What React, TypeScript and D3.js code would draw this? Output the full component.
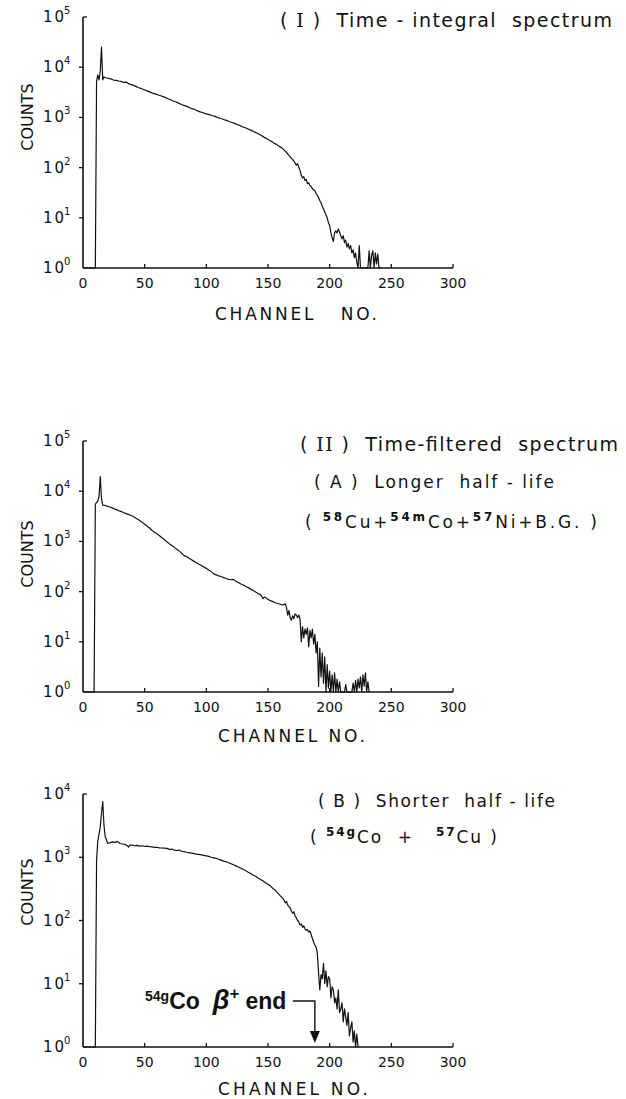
import React from "react";
import * as d3 from "d3";

// ---------- data ----------
const xTickValues = [0, 50, 100, 150, 200, 250, 300];
const yExponentsUpper = [0, 1, 2, 3, 4, 5];
const yExponentsLower = [0, 1, 2, 3, 4];

// (I) Time-integral spectrum
const channelsI = [0, 10, 11, 12, 13, 14, 15, 16, 17, 19, 21, 23, 25, 27, 29, 31, 33, 35, 37, 39, 41, 43, 45, 47, 49, 51, 53, 55, 57, 59, 61, 63, 65, 67, 69, 71, 73, 75, 77, 79, 81, 83, 85, 87, 89, 91, 93, 95, 97, 99, 101, 103, 105, 107, 109, 111, 113, 115, 117, 119, 121, 123, 125, 127, 129, 131, 133, 135, 137, 139, 141, 143, 145, 147, 149, 151, 153, 155, 157, 159, 161, 163, 165, 167, 169, 171, 173, 174, 175, 176, 177, 178, 179, 180, 181, 182, 183, 184, 185, 186, 187, 188, 189, 190, 191, 192, 193, 194, 195, 196, 197, 198, 199, 200, 201, 202, 203, 204, 205, 206, 207, 208, 209, 210, 211, 212, 213, 214, 215, 216, 217, 218, 219, 220, 221, 222, 223, 224, 225, 231, 232, 233, 234, 235, 236, 237, 238, 239, 240, 242];
const countsI = [1, 1, 5200, 7000, 5600, 8500, 25000, 5600, 6400, 6100, 6000, 5800, 5500, 5450, 5300, 5200, 5000, 5050, 4700, 4500, 4350, 4150, 3900, 3800, 3600, 3450, 3300, 3150, 3000, 2900, 2800, 2700, 2600, 2480, 2350, 2250, 2120, 2050, 1950, 1850, 1760, 1700, 1620, 1540, 1480, 1420, 1350, 1290, 1250, 1190, 1160, 1120, 1080, 1050, 1000, 960, 930, 890, 860, 820, 790, 760, 720, 700, 650, 630, 600, 570, 545, 510, 490, 455, 430, 400, 375, 350, 330, 305, 290, 265, 250, 225, 200, 175, 155, 135, 112, 120, 100, 88, 70, 62, 66, 55, 58, 48, 50, 44, 42, 38, 36, 35, 30, 28, 25, 22, 20, 17, 15, 13, 11.5, 10, 8, 7, 5, 4, 3.4, 5, 5.5, 5, 6, 5.2, 4.4, 3.8, 4.4, 3.2, 3.6, 2.6, 3.1, 2.4, 2.8, 2, 2.3, 1.6, 2, 1.3, 1, 2.8, 1, 1, 2.2, 1, 1.8, 2.2, 1, 2, 1.2, 1.9, 1, 1];

// (II)(A) Longer half-life
const channelsA = [0, 9, 10, 11, 12, 13, 14, 15, 16, 18, 20, 22, 24, 26, 28, 30, 32, 34, 36, 38, 40, 42, 44, 46, 48, 50, 52, 54, 56, 58, 60, 62, 64, 66, 68, 70, 72, 74, 76, 78, 80, 82, 84, 86, 88, 90, 92, 94, 96, 98, 100, 102, 104, 106, 108, 110, 112, 114, 116, 118, 120, 122, 124, 126, 128, 130, 132, 134, 136, 138, 140, 142, 144, 145, 146, 147, 148, 150, 152, 154, 156, 158, 160, 162, 164, 165, 166, 167, 168, 169, 170, 171, 172, 173, 174, 175, 176, 177, 178, 179, 180, 181, 182, 183, 184, 185, 186, 187, 188, 189, 190, 191, 192, 193, 194, 195, 196, 197, 198, 199, 200, 201, 202, 203, 204, 205, 206, 207, 208, 209, 212, 213, 214, 218, 219, 220, 221, 222, 223, 224, 225, 226, 227, 228, 229, 230, 231, 232];
const countsA = [1, 1, 5500, 6000, 6300, 8000, 19500, 7000, 5300, 5200, 5000, 4850, 4600, 4400, 4200, 4000, 3850, 3650, 3500, 3350, 3200, 3000, 2800, 2600, 2400, 2200, 2000, 1850, 1650, 1530, 1420, 1300, 1180, 1080, 980, 900, 830, 760, 700, 640, 580, 520, 500, 460, 430, 400, 375, 350, 330, 310, 290, 270, 250, 225, 215, 205, 200, 190, 182, 175, 172, 175, 160, 152, 142, 135, 126, 120, 112, 105, 98, 92, 86, 80, 72, 78, 76, 70, 66, 63, 60, 58, 56, 54, 57, 48, 34, 42, 30, 27, 33, 29, 36, 34, 30, 34, 28, 10, 20, 12, 18, 14, 19, 8, 17, 12, 18, 9, 14, 6, 10, 1.3, 7.5, 2, 6, 1.5, 5, 1, 3.5, 1.2, 2.6, 1, 2.2, 1, 2.4, 1, 1.8, 1, 1.6, 1, 1, 1.4, 1, 1, 1.5, 1, 1.7, 1, 1.8, 1.2, 2, 1, 2.2, 1.3, 2.4, 1, 1.6, 1];

// (II)(B) Shorter half-life
const channelsB = [0, 10, 11, 12, 13, 14, 15, 16, 17, 18, 19, 20, 22, 24, 26, 28, 30, 32, 34, 36, 37, 38, 40, 42, 44, 46, 48, 50, 52, 54, 56, 58, 60, 62, 64, 66, 68, 70, 72, 74, 76, 78, 80, 82, 84, 86, 88, 90, 92, 94, 96, 98, 100, 102, 104, 106, 108, 110, 112, 114, 116, 118, 120, 122, 124, 126, 128, 130, 132, 134, 136, 138, 140, 142, 144, 146, 148, 150, 152, 154, 156, 158, 160, 162, 163, 164, 165, 166, 167, 168, 169, 170, 171, 172, 173, 174, 175, 176, 177, 178, 179, 180, 181, 182, 183, 184, 185, 186, 187, 188, 189, 190, 191, 192, 193, 194, 195, 196, 197, 198, 199, 200, 201, 202, 203, 204, 205, 206, 207, 208, 209, 210, 211, 212, 213, 214, 215, 216, 217, 218, 219, 220, 221, 222, 223, 224];
const countsB = [1, 1, 900, 1800, 2300, 3000, 5000, 7600, 3200, 2100, 1900, 1650, 1700, 1750, 1720, 1780, 1650, 1620, 1600, 1520, 1450, 1560, 1560, 1520, 1540, 1500, 1520, 1480, 1500, 1470, 1460, 1430, 1440, 1410, 1400, 1390, 1380, 1330, 1350, 1300, 1280, 1300, 1240, 1230, 1200, 1180, 1160, 1140, 1120, 1110, 1090, 1070, 1050, 1030, 1000, 980, 960, 930, 900, 870, 850, 820, 790, 760, 730, 700, 670, 640, 610, 580, 555, 520, 500, 470, 445, 420, 395, 375, 350, 320, 300, 270, 245, 225, 210, 190, 200, 175, 165, 158, 140, 130, 138, 118, 110, 100, 95, 85, 88, 78, 82, 74, 70, 72, 66, 68, 60, 52, 45, 41, 38, 30, 15, 8, 14, 12, 21, 10, 16, 9, 13, 12, 6, 9, 8, 5, 6, 4, 8, 3.5, 4, 5, 2.5, 4, 3, 2.2, 3.5, 1.5, 2, 2.5, 1.2, 1.8, 1, 1.6, 1, 1];

const arrowChannel = 188;

// ---------- layout ----------
const W = 626;
const H = 1099;
const x = d3.scaleLinear().domain([0, 300]).range([83, 453]);
const LABEL_FONT = "'DejaVu Sans', Lato, sans-serif";
const PRE = { whiteSpace: "pre" as const };

type PanelProps = {
  channels: number[];
  counts: number[];
  yTop: number;
  yBottom: number;
  exps: number[];
  countsY: number;
};

function Panel({ channels, counts, yTop, yBottom, exps, countsY }: PanelProps) {
  const maxExp = exps[exps.length - 1];
  const y = d3.scaleLog().domain([1, Math.pow(10, maxExp)]).range([yBottom, yTop]);
  const pts = channels.map((c, i) => [c, Math.max(1, counts[i])] as [number, number]);
  const line = d3
    .line<[number, number]>()
    .x((d) => x(d[0]))
    .y((d) => y(d[1]));
  const x0 = x(0);
  const x1 = x(300);
  return (
    <g>
      <line x1={x0} y1={yTop} x2={x0} y2={yBottom} stroke="#111" strokeWidth={1.6} />
      <line x1={x0} y1={yBottom} x2={x1} y2={yBottom} stroke="#111" strokeWidth={1.6} />
      {exps.map((e) => {
        const yy = y(Math.pow(10, e));
        const isTop = e === maxExp;
        return (
          <g key={e}>
            {e > 0 && (
              <line
                x1={isTop ? x0 : x0 - 4}
                x2={isTop ? x0 + 4 : x0}
                y1={yy}
                y2={yy}
                stroke="#111"
                strokeWidth={1.3}
              />
            )}
            <text x={43} y={yy + 5} fontFamily={LABEL_FONT} fontSize={15} fill="#111">
              1<tspan dx={2}>0</tspan>
              <tspan dy={-8} fontSize={10}>
                {e}
              </tspan>
            </text>
          </g>
        );
      })}
      {xTickValues.map((v) => (
        <g key={v}>
          {v > 0 && (
            <line x1={x(v)} x2={x(v)} y1={yBottom} y2={yBottom - 4} stroke="#111" strokeWidth={1.3} />
          )}
          <text
            x={x(v)}
            y={yBottom + 20}
            textAnchor="middle"
            fontFamily={LABEL_FONT}
            fontSize={14}
            fill="#111"
          >
            {v}
          </text>
        </g>
      ))}
      <text
        transform={`translate(33,${countsY}) rotate(-90)`}
        textAnchor="middle"
        fontFamily={LABEL_FONT}
        fontSize={16}
        fill="#111"
      >
        COUNTS
      </text>
      <path d={line(pts) || ""} fill="none" stroke="#111" strokeWidth={1.2} strokeLinejoin="round" />
    </g>
  );
}

export default function App() {
  return (
    <svg
      width={W}
      height={H}
      viewBox={`0 0 ${W} ${H}`}
      style={{ position: "absolute", left: 0, top: 0, background: "#fff" }}
    >
      <rect x={0} y={0} width={W} height={H} fill="#fff" />

      {/* Panel I */}
      <Panel channels={channelsI} counts={countsI} yTop={17} yBottom={268} exps={yExponentsUpper} countsY={117} />
      <text x={280} y={27} style={PRE} fontFamily={LABEL_FONT} fontSize={19} fill="#111" textLength={332} lengthAdjust="spacing">
        {"( "}<tspan fontFamily="'DejaVu Serif', serif">I</tspan>{" )  Time - integral  spectrum"}
      </text>
      <text x={215} y={320} style={PRE} fontFamily={LABEL_FONT} fontSize={17} fill="#111" textLength={162} lengthAdjust="spacing">
        {"CHANNEL   NO."}
      </text>

      {/* Panel II A */}
      <Panel channels={channelsA} counts={countsA} yTop={441} yBottom={692} exps={yExponentsUpper} countsY={554} />
      <text x={300} y={451} style={PRE} fontFamily={LABEL_FONT} fontSize={19} fill="#111" textLength={318} lengthAdjust="spacing">
        {"( "}<tspan fontFamily="'DejaVu Serif', serif">II</tspan>{" )  Time-filtered  spectrum"}
      </text>
      <text x={314} y={488} style={PRE} fontFamily={LABEL_FONT} fontSize={17} fill="#111" textLength={240} lengthAdjust="spacing">
        {"( A )  Longer  half - life"}
      </text>
      <text x={305} y={528} style={PRE} fontFamily={LABEL_FONT} fontSize={17} fill="#111" textLength={292} lengthAdjust="spacing">
        {"( "}
        <tspan dy={-7} fontSize={12} fontWeight="bold">58</tspan>
        <tspan dy={7}>Cu+</tspan>
        <tspan dy={-7} fontSize={12} fontWeight="bold">54m</tspan>
        <tspan dy={7}>Co+</tspan>
        <tspan dy={-7} fontSize={12} fontWeight="bold">57</tspan>
        <tspan dy={7}>{"Ni+B.G. )"}</tspan>
      </text>
      <text x={218} y={742} style={PRE} fontFamily={LABEL_FONT} fontSize={17} fill="#111" textLength={147} lengthAdjust="spacing">
        {"CHANNEL NO."}
      </text>

      {/* Panel II B */}
      <Panel channels={channelsB} counts={countsB} yTop={794} yBottom={1047} exps={yExponentsLower} countsY={892} />
      <text x={318} y={807} style={PRE} fontFamily={LABEL_FONT} fontSize={17} fill="#111" textLength={237} lengthAdjust="spacing">
        {"( B )  Shorter  half - life"}
      </text>
      <text x={310} y={843} style={PRE} fontFamily={LABEL_FONT} fontSize={17} fill="#111" textLength={187} lengthAdjust="spacing">
        {"( "}
        <tspan dy={-7} fontSize={12} fontWeight="bold">54g</tspan>
        <tspan dy={7}>{"Co  +   "}</tspan>
        <tspan dy={-7} fontSize={12} fontWeight="bold">57</tspan>
        <tspan dy={7}>{"Cu )"}</tspan>
      </text>
      <text x={218} y={1095} style={PRE} fontFamily={LABEL_FONT} fontSize={17} fill="#111" textLength={150} lengthAdjust="spacing">
        {"CHANNEL NO."}
      </text>

      {/* annotation */}
      <text x={145} y={1009} style={PRE} fontFamily="'Liberation Sans', Arial, sans-serif" fontWeight="bold" fontSize={23} fill="#111">
        <tspan dy={-8} fontSize={14}>54g</tspan>
        <tspan dy={8}>Co</tspan>
        <tspan dx={13} fontStyle="italic" fontSize={27}>β</tspan>
        <tspan dy={-10} fontSize={17}>+</tspan>
        <tspan dy={10} dx={6}>end</tspan>
      </text>
      <path
        d={`M${x(arrowChannel) - 22},1001 L${x(arrowChannel)},1001 L${x(arrowChannel)},1032`}
        fill="none"
        stroke="#111"
        strokeWidth={1.4}
      />
      <path
        d={`M${x(arrowChannel) - 5},1031 L${x(arrowChannel) + 5},1031 L${x(arrowChannel)},1043 Z`}
        fill="#111"
      />
    </svg>
  );
}
